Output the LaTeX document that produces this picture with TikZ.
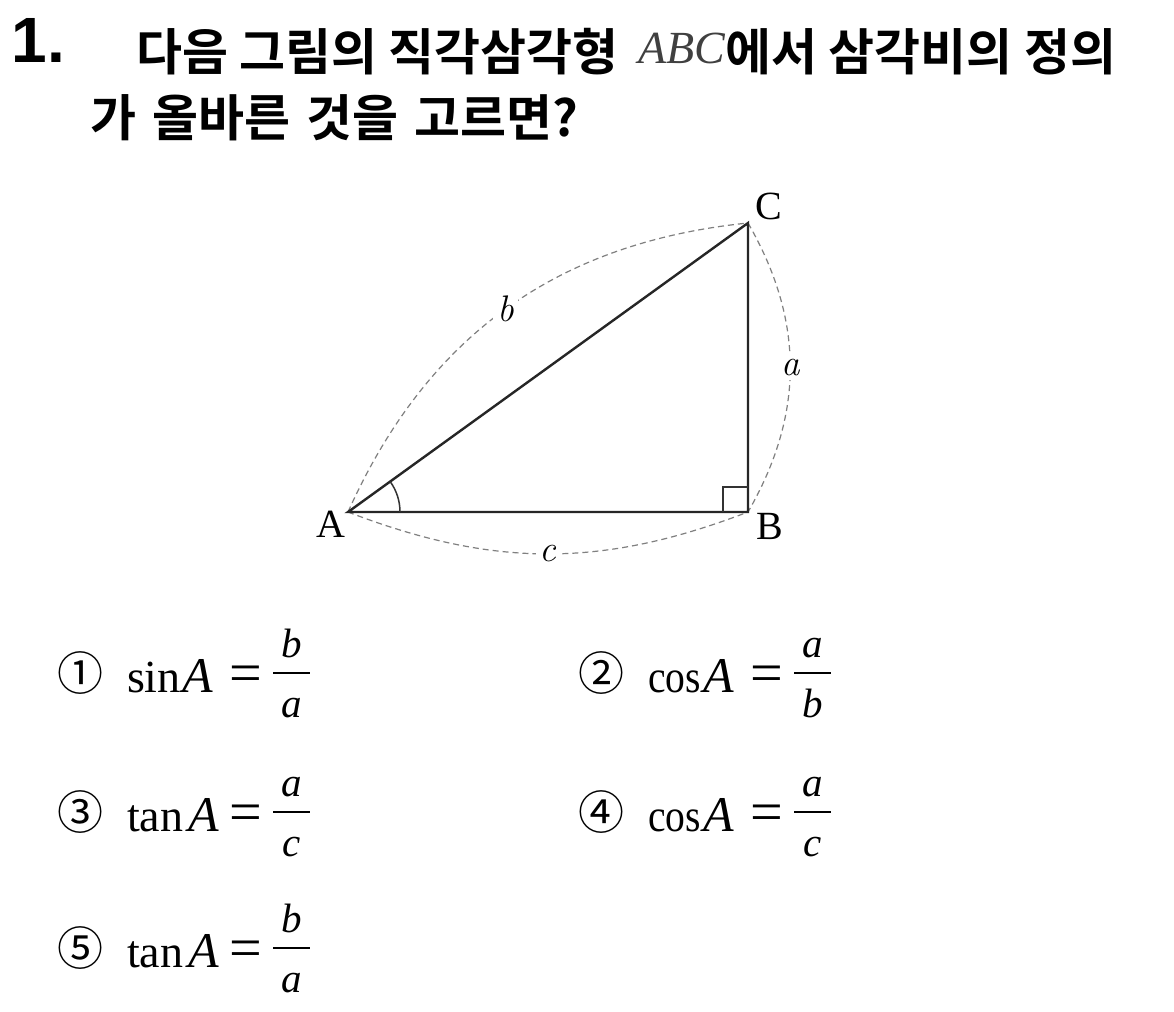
\documentclass[tikz,border=0pt]{standalone}
\usepackage{fontspec}
\usepackage{graphicx}
\setmainfont{Liberation Serif}
\newfontfamily\kfont{Noto Sans CJK KR}[BoldFont={* Bold}]
\newfontfamily\nfont{Liberation Sans}
\newfontfamily\cfont{Noto Sans CJK KR}
\newfontfamily\lmfont{Latin Modern Roman}
\newcommand\fs[1]{\fontsize{#1}{#1}\selectfont}
\newcommand\opt[8]{%
  \node[circnum] (#1c) at (80+#2,#3) {#4};
  \node[fn] (#1f) at (127+#2,#3-19) {#5};
  \node[va] (#1a) at (#6+#2,#3-19) {A};
  \node[eq] (#1e) at (246+#2,#3-19) {=};
  \coordinate (#1l) at (273+#2,#3);
  \coordinate (#1r) at (310+#2,#3);
  \draw[fbar] (#1l) -- (#1r);
  \node[fr] (#1n) at (291.5+#2,#3+16) {#7};
  \node[fr] (#1d) at (291.5+#2,#3-44) {#8};
}
\begin{document}
\begin{tikzpicture}[x=1pt,y=1pt,
  txt/.style={inner sep=0pt, outer sep=0pt},
  titletxt/.style={txt, anchor=base west, font=\kfont\bfseries\fs{50}},
  tri/.style={draw=black!85, line width=2.4pt},
  thin/.style={draw=black!80, line width=1.5pt},
  dim/.style={draw=black!50, line width=1.2pt, dash pattern=on 6pt off 4pt},
  vlab/.style={txt, font=\fs{40}},
  slab/.style={txt, fill=white, inner sep=4pt, font=\lmfont\itshape\fs{37}},
  circnum/.style={txt, font=\cfont\fs{46}},
  fn/.style={txt, anchor=base west, font=\fs{46}},
  va/.style={txt, anchor=base west, font=\itshape\fs{50}},
  eq/.style={txt, anchor=base, font=\fs{58}},
  fr/.style={txt, anchor=base, font=\itshape\fs{41}},
  fbar/.style={draw=black, line width=2pt}
]
\useasboundingbox[fill=white] (0,0) rectangle (1174,-1011);

% heading
\node[txt, anchor=base west, font=\nfont\bfseries\fs{64}] (qnum) at (12,-63) {1.};
\node[titletxt] (line1) at (136,-71) {다음 그림의 직각삼각형\hspace{0.4em}\raisebox{7pt}{\fontspec{Liberation Serif}\mdseries\itshape\fs{46}\color{black!75}ABC}에서 삼각비의 정의};
\node[titletxt] (line2) at (90,-137) {가\hspace{0.32em}올바른\hspace{0.32em}것을\hspace{0.32em}고르면?};

% triangle
\coordinate (A) at (348,-512);
\coordinate (B) at (748,-512);
\coordinate (C) at (748,-223);
\draw[dim] (A) to[bend left=30] node[slab] (lb) {b} (C);
\draw[dim] (C) to[bend left=30] node[slab] (la) {a} (B);
\draw[dim] (A) to[bend right=21] node[slab] (lc) {c} (B);
\draw[tri] (A) -- (B) -- (C) -- cycle;
\draw[thin] (A) ++(52,0) arc[start angle=0, end angle=35.85, radius=52];
\draw[thin] (B) ++(-25,0) -- ++(0,25) -- ++(25,0);
\node[vlab] (vA) at (331,-524) {A};
\node[vlab] (vB) at (770,-526) {B};
\node[vlab] (vC) at (769,-206) {C};

% options
\opt{o1}{0}{-673}{①}{sin}{182}{b}{a}
\opt{o2}{521}{-673}{②}{\scalebox{0.86}[1]{cos}}{182}{a}{b}
\opt{o3}{0}{-812}{③}{tan}{188}{a}{c}
\opt{o4}{521}{-812}{④}{\scalebox{0.86}[1]{cos}}{182}{a}{c}
\opt{o5}{0}{-948}{⑤}{tan}{188}{b}{a}
\end{tikzpicture}
\end{document}
